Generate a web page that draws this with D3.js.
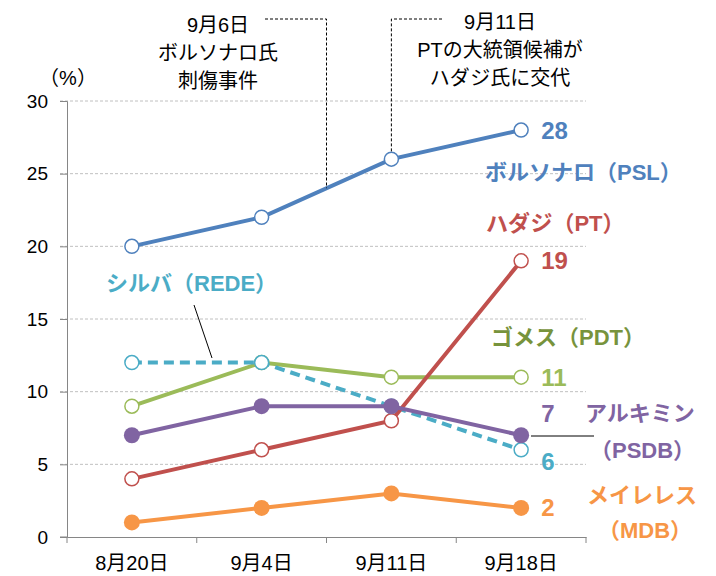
<!DOCTYPE html>
<html>
<head>
<meta charset="utf-8">
<script src="https://cdn.jsdelivr.net/npm/d3@7"></script>
<style>
  body { margin: 0; background: #fff; }
  svg text { font-family: "Liberation Sans", "Noto Sans CJK JP", sans-serif; }
</style>
</head>
<body>
<svg id="chart" width="716" height="576"></svg>
<script>
// data
var dates = ["8月20日", "9月4日", "9月11日", "9月18日"];
var yTicks = [0, 5, 10, 15, 20, 25, 30];
var bolsonaro = [20, 22, 26, 28];
var haddad = [4, 6, 8, 19];
var gomes = [9, 12, 11, 11];
var alckmin = [7, 9, 9, 7];
var silva = [12, 12, 9, 6];
var meirelles = [1, 2, 3, 2];

var svg = d3.select("#chart");
var x = d3.scaleBand().domain(dates).range([67, 586]);
var y = d3.scaleLinear().domain([0, 30]).range([537, 101]);
var cx = function(i) { return x(dates[i]) + x.bandwidth() / 2; };

// grid lines
svg.append("g").selectAll("line").data(yTicks.filter(function(d){ return d > 0; }))
  .enter().append("line")
  .attr("x1", 60).attr("x2", 586)
  .attr("y1", function(d){ return y(d); }).attr("y2", function(d){ return y(d); })
  .attr("stroke", "#c0c0c0").attr("stroke-dasharray", "3,2");

// axes
var yAxis = svg.append("g").attr("transform", "translate(67,0)")
  .call(d3.axisLeft(y).tickValues(yTicks).tickSize(7).tickPadding(12));
yAxis.select(".domain").attr("stroke", "#868686");
yAxis.selectAll(".tick line").attr("stroke", "#868686");
yAxis.selectAll("text").attr("font-size", 19).attr("fill", "#000");

var xAxis = svg.append("g").attr("transform", "translate(0,537)")
  .call(d3.axisBottom(x).tickSize(0).tickPadding(19));
xAxis.select(".domain").attr("stroke", "#868686");
xAxis.selectAll("text").attr("font-size", 20).attr("fill", "#000");
xAxis.selectAll(".tickmark").data(d3.range(dates.length + 1)).enter().append("line")
  .attr("x1", function(i){ return 67 + i * x.step(); })
  .attr("x2", function(i){ return 67 + i * x.step(); })
  .attr("y1", 0).attr("y2", 6).attr("stroke", "#868686");
svg.append("line").attr("x1", 60).attr("x2", 67).attr("y1", 537).attr("y2", 537).attr("stroke", "#868686");

svg.append("text").attr("x", 68).attr("y", 78).attr("text-anchor", "middle")
  .attr("dominant-baseline", "central").attr("font-size", 20).text("（%）");

// series
var series = [
  { vals: meirelles, color: "#f79646", open: false, dash: null },
  { vals: gomes, color: "#9bbb59", open: true, dash: null },
  { vals: silva, color: "#4bacc6", open: true, dash: "10,6" },
  { vals: haddad, color: "#c0504d", open: true, dash: null },
  { vals: alckmin, color: "#8064a2", open: false, dash: null },
  { vals: bolsonaro, color: "#4f81bd", open: true, dash: null }
];
var line = d3.line().x(function(d, i){ return cx(i); }).y(function(d){ return y(d); });
series.forEach(function(s) {
  svg.append("path").attr("d", line(s.vals)).attr("fill", "none")
    .attr("stroke", s.color).attr("stroke-width", 4)
    .attr("stroke-dasharray", s.dash);
  svg.append("g").selectAll("circle").data(s.vals).enter().append("circle")
    .attr("cx", function(d, i){ return cx(i); })
    .attr("cy", function(d){ return y(d); })
    .attr("r", s.open ? 7 : 8)
    .attr("fill", s.open ? "#fff" : s.color)
    .attr("stroke", s.color).attr("stroke-width", s.open ? 1.5 : 0);
});

// end values
var ends = [
  { v: bolsonaro[3], color: "#4f81bd", dy: 0 },
  { v: haddad[3], color: "#c0504d", dy: 0 },
  { v: gomes[3], color: "#9bbb59", dy: 0 },
  { v: alckmin[3], color: "#8064a2", dy: -22 },
  { v: silva[3], color: "#4bacc6", dy: 12 },
  { v: meirelles[3], color: "#f79646", dy: 0 }
];
svg.append("g").selectAll("text").data(ends).enter().append("text")
  .attr("x", cx(3) + 20).attr("y", function(d){ return y(d.v) + d.dy; })
  .attr("dominant-baseline", "central").attr("font-size", 24).attr("font-weight", "bold")
  .attr("fill", function(d){ return d.color; }).text(function(d){ return d.v; });

// names
var names = [
  { t: "ボルソナロ（PSL）", x: 485, y: 172, c: "#4f81bd" },
  { t: "ハダジ（PT）", x: 486, y: 223, c: "#c0504d" },
  { t: "シルバ（REDE）", x: 106, y: 283, c: "#4bacc6" },
  { t: "ゴメス（PDT）", x: 491, y: 337, c: "#77933c" },
  { t: "アルキミン", x: 585, y: 413, c: "#8064a2" },
  { t: "（PSDB）", x: 590, y: 450, c: "#8064a2" },
  { t: "メイレレス", x: 587, y: 495, c: "#f79646" },
  { t: "（MDB）", x: 598, y: 530, c: "#f79646" }
];
svg.append("g").selectAll("text").data(names).enter().append("text")
  .attr("x", function(d){ return d.x; }).attr("y", function(d){ return d.y; })
  .attr("dominant-baseline", "central").attr("font-size", 22).attr("font-weight", "bold")
  .attr("fill", function(d){ return d.c; }).text(function(d){ return d.t; });

// leader lines
svg.append("line").attr("x1", 194).attr("y1", 305).attr("x2", 212).attr("y2", 358)
  .attr("stroke", "#000").attr("stroke-width", 1);
svg.append("line").attr("x1", 531).attr("y1", 436).attr("x2", 594).attr("y2", 436)
  .attr("stroke", "#000").attr("stroke-width", 1);

// event notes
var bx = 67 + 2 * x.step();
var by = y((bolsonaro[1] + bolsonaro[2]) / 2);
svg.append("path").attr("d", "M265,19H" + bx + "V" + by)
  .attr("fill", "none").attr("stroke", "#000").attr("stroke-dasharray", "3,2");
svg.append("path").attr("d", "M442,19H" + cx(2) + "V" + (y(bolsonaro[2]) - 7))
  .attr("fill", "none").attr("stroke", "#000").attr("stroke-dasharray", "3,2");

var note1 = ["9月6日", "ボルソナロ氏", "刺傷事件"];
var note2 = ["9月11日", "PTの大統領候補が", "ハダジ氏に交代"];
svg.append("g").selectAll("text").data(note1).enter().append("text")
  .attr("x", 218).attr("y", function(d, i){ return 25 + i * 28; })
  .attr("text-anchor", "middle").attr("dominant-baseline", "central")
  .attr("font-size", 20).text(function(d){ return d; });
svg.append("g").selectAll("text").data(note2).enter().append("text")
  .attr("x", 500).attr("y", function(d, i){ return 22 + i * 28; })
  .attr("text-anchor", "middle").attr("dominant-baseline", "central")
  .attr("font-size", 20).text(function(d){ return d; });
</script>
</body>
</html>
